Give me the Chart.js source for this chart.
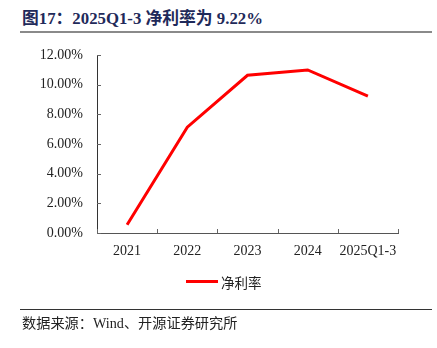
<!DOCTYPE html>
<html>
<head>
<meta charset="utf-8">
<script src="https://cdn.jsdelivr.net/npm/chart.js@4"></script>
<style>
  body { margin: 0; background: #fff; }
  #wrap { position: relative; width: 437px; height: 348px; overflow: hidden; }
  #chart { position: absolute; left: 0; top: 0; }
  .title {
    position: absolute; left: 22px; top: 9px; white-space: nowrap;
    font: bold 16.8px "Liberation Serif", "Noto Sans CJK SC", serif;
    color: #1f2a5a; line-height: 20px;
  }
  .rule-top { position: absolute; left: 20px; top: 31px; width: 412px; height: 2px; background: #8a8a8a; }
  .rule-bottom { position: absolute; left: 20px; top: 309px; width: 412px; height: 1px; background: #333; }
  .source {
    position: absolute; left: 22px; top: 315px; white-space: nowrap;
    font: 14.2px "Liberation Serif", "Noto Sans CJK SC", serif;
    color: #222; line-height: 17px;
  }
  .legend { position: absolute; left: 186px; top: 272px; height: 18px; white-space: nowrap; }
  .legend .swatch { position: absolute; left: 0; top: 7.5px; width: 32px; height: 3px; background: #ff0000; }
  .legend .label {
    position: absolute; left: 35px; top: 0; line-height: 18px;
    font: 13.5px "Noto Sans CJK SC", sans-serif; color: #222;
  }
</style>
</head>
<body>
<div id="wrap">
  <div class="title">图17：2025Q1-3 净利率为 9.22%</div>
  <div class="rule-top"></div>
  <canvas id="chart" width="437" height="348"></canvas>
  <div class="legend"><span class="swatch"></span><span class="label">净利率</span></div>
  <div class="rule-bottom"></div>
  <div class="source">数据来源：Wind、开源证券研究所</div>
</div>
<script>
// 年份与净利率（%）
const periods = ["2021", "2022", "2023", "2024", "2025Q1-3"];
const netMargin = [0.56, 7.13, 10.63, 10.99, 9.22];
const yTicks = [0, 2, 4, 6, 8, 10, 12];

// 坐标轴上朝内的短刻度线
const innerTicks = {
  id: "innerTicks",
  afterDraw(chart) {
    const ctx = chart.ctx;
    const x = chart.scales.x;
    const y = chart.scales.y;
    const area = chart.chartArea;
    ctx.save();
    ctx.strokeStyle = "#666";
    ctx.lineWidth = 1;
    ctx.beginPath();
    yTicks.forEach(function (v) {
      const py = Math.round(y.getPixelForValue(v)) + 0.5;
      ctx.moveTo(area.left, py);
      ctx.lineTo(area.left + 4, py);
    });
    const n = periods.length;
    for (let i = 0; i <= n; i++) {
      let px;
      if (i === 0) px = area.left;
      else if (i === n) px = area.right;
      else px = (x.getPixelForTick(i - 1) + x.getPixelForTick(i)) / 2;
      px = Math.round(px) + 0.5;
      ctx.moveTo(px, area.bottom);
      ctx.lineTo(px, area.bottom - 4);
    }
    ctx.stroke();
    ctx.restore();
  },
};

const ctx = document.getElementById("chart").getContext("2d");
new Chart(ctx, {
  type: "line",
  data: {
    labels: periods,
    datasets: [
      {
        label: "净利率",
        data: netMargin,
        borderColor: "#ff0000",
        backgroundColor: "#ff0000",
        borderWidth: 3,
        pointRadius: 0,
        tension: 0,
      },
    ],
  },
  options: {
    responsive: false,
    animation: false,
    layout: { padding: { top: 55, right: 39, bottom: 85, left: 0 } },
    plugins: {
      legend: { display: false },
      tooltip: { enabled: false },
    },
    scales: {
      x: {
        offset: true,
        grid: { display: false, drawTicks: false },
        border: { display: true, color: "#555", width: 1 },
        ticks: {
          padding: 10,
          color: "#222",
          font: { family: "Liberation Serif", size: 14 },
          maxRotation: 0,
        },
        afterFit(scale) {
          scale.height = 30;
        },
      },
      y: {
        min: 0,
        max: 12,
        grid: { display: false, drawTicks: false },
        border: { display: true, color: "#333", width: 1 },
        afterBuildTicks(scale) {
          scale.ticks = yTicks.map(function (v) { return { value: v }; });
        },
        ticks: {
          padding: 14,
          color: "#222",
          font: { family: "Liberation Serif", size: 14 },
          callback: function (v) { return v.toFixed(2) + "%"; },
        },
        afterFit(scale) {
          scale.width = 97;
        },
      },
    },
  },
  plugins: [innerTicks],
});
</script>
</body>
</html>
